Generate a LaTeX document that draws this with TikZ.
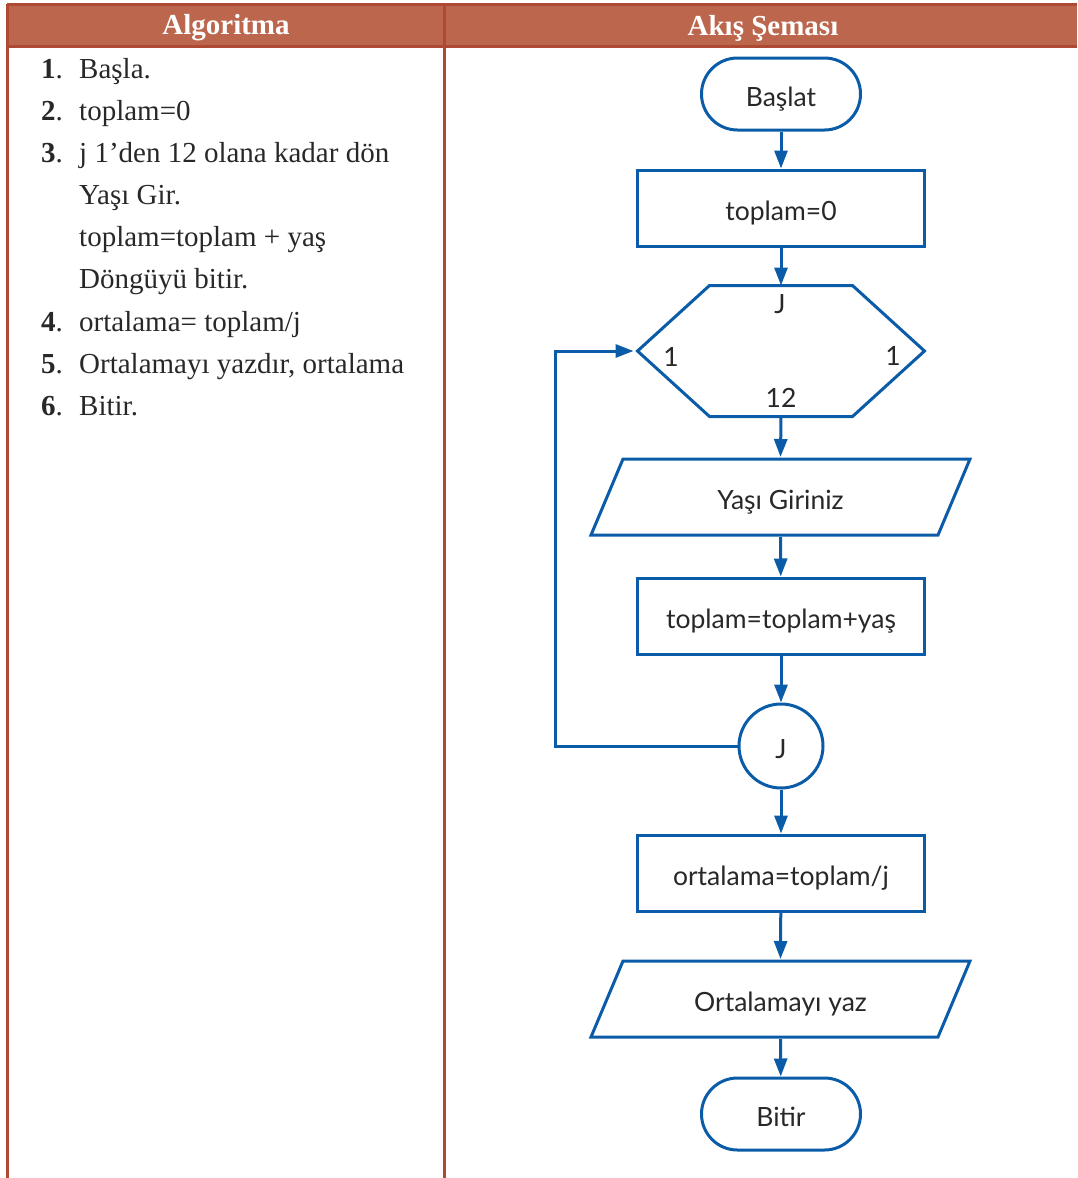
\documentclass[tikz,border=0pt]{standalone}
\usepackage{fontspec}
\setmainfont{Liberation Serif}
\newfontfamily\akisfont{Lato}
\usetikzlibrary{arrows.meta,calc}
\definecolor{baslik}{RGB}{188,102,77}
\definecolor{cerceve}{RGB}{174,74,51}
\definecolor{akismavi}{RGB}{10,92,168}
\definecolor{yazi}{RGB}{40,40,40}
\tikzset{
  header/.style={font=\bfseries\fontsize{29}{34}\selectfont, text=white},
  madde/.style={anchor=base west, inner sep=0pt, font=\fontsize{29}{34}\selectfont, text=yazi},
  akis/.style={font=\akisfont\fontsize{26.5}{30}\selectfont, text=yazi, text height=25pt, text depth=0pt},
  cizgi/.style={draw=akismavi, line width=3pt},
  terminal/.style={akis, cizgi, rounded corners=36pt, minimum width=159pt, minimum height=72pt},
  islem/.style={akis, cizgi, minimum width=287pt, minimum height=76pt},
  kutu/.style={akis, inner sep=0pt, outer sep=0pt},
  baglanti/.style={akis, cizgi, circle, inner sep=0pt, minimum size=84pt},
  etiket/.style={akis, inner sep=0pt},
  ok/.style={cizgi, -{Triangle[length=18pt,width=13pt]}},
}

\begin{document}
\begin{tikzpicture}[x=1pt, y=-1pt]
  \useasboundingbox (0,0) rectangle (1077,1178);
  % table frame
  \fill[baslik] (7,4) rectangle (1077,46);
  \draw[cerceve, line width=3pt] (7,4) -- (1077,4);
  \draw[cerceve, line width=3pt] (7,46) -- (1077,46);
  \draw[cerceve, line width=3pt] (7,4) -- (7,1178);
  \draw[cerceve, line width=3pt] (444,4) -- (444,1178);
  \node[header] (algoritma) at (226,28) {Algoritma};
  \node[header] (sema) at (763,28) {Akış Şeması};

  % algorithm steps
  \node[madde] (n1) at (41,78) {\textbf{1}.};
  \node[madde] (a1) at (79,78) {Başla.};
  \node[madde] (n2) at (41,120) {\textbf{2}.};
  \node[madde] (a2) at (79,120) {toplam=0};
  \node[madde] (n3) at (41,162) {\textbf{3}.};
  \node[madde] (a3) at (79,162) {j 1’den 12 olana kadar dön};
  \node[madde] (a3b) at (79,204) {Yaşı Gir.};
  \node[madde] (a3c) at (79,246) {toplam=toplam + yaş};
  \node[madde] (a3d) at (79,288) {Döngüyü bitir.};
  \node[madde] (n4) at (41,331) {\textbf{4}.};
  \node[madde] (a4) at (79,331) {ortalama= toplam/j};
  \node[madde] (n5) at (41,373) {\textbf{5}.};
  \node[madde] (a5) at (79,373) {Ortalamayı yazdır, ortalama};
  \node[madde] (n6) at (41,415) {\textbf{6}.};
  \node[madde] (a6) at (79,415) {Bitir.};

  % flow chart
  \node[terminal] (baslat) at (781,94) {Başlat};
  \node[islem] (toplam) at (781,208) {toplam=0};
  \node[kutu, minimum width=287pt, minimum height=131pt] (dongu) at (781,351) {};
  \draw[cizgi, line join=miter] (dongu.west) -- ($(dongu.north west)+(72,0)$) -- ($(dongu.north east)+(-72,0)$)
    -- (dongu.east) -- ($(dongu.south east)+(-72,0)$) -- ($(dongu.south west)+(72,0)$) -- cycle;
  \node[etiket] (jbas) at (780,301) {J};
  \node[etiket] (bas1) at (671,354) {1};
  \node[etiket] (artis) at (893,353) {1};
  \node[etiket] (son) at (781,395) {12};
  \node[kutu, minimum width=347pt, minimum height=76pt] (giris) at (780.5,497) {Yaşı Giriniz};
  \draw[cizgi] ($(giris.north west)+(16,0)$) -- ($(giris.north east)+(16,0)$)
    -- ($(giris.south east)+(-16,0)$) -- ($(giris.south west)+(-16,0)$) -- cycle;
  \node[islem] (topla) at (781,616) {toplam=toplam+yaş};
  \node[baglanti] (jsay) at (781,746) {J};
  \node[islem] (ortalama) at (781,873) {ortalama=toplam/j};
  \node[kutu, minimum width=347pt, minimum height=76pt] (yazdir) at (780.5,999) {Ortalamayı yaz};
  \draw[cizgi] ($(yazdir.north west)+(16,0)$) -- ($(yazdir.north east)+(16,0)$)
    -- ($(yazdir.south east)+(-16,0)$) -- ($(yazdir.south west)+(-16,0)$) -- cycle;
  \node[terminal] (bitir) at (781,1114) {Bitir};
  \coordinate (donus) at ($(dongu.west)+(-4,0)$);

  \draw[ok] (baslat) -- (toplam);
  \draw[ok] (toplam) -- (dongu.north);
  \draw[ok] (dongu.south) -- ($(giris.north)+(0,-2)$);
  \draw[ok] ($(giris.south)+(0,2)$) -- (topla);
  \draw[ok] (topla) -- (jsay);
  \draw[ok] (jsay.west) -- ++(-182,0) |- (donus);
  \draw[ok] (jsay) -- (ortalama);
  \draw[ok] (ortalama) -- ($(yazdir.north)+(0,-2)$);
  \draw[ok] ($(yazdir.south)+(0,2)$) -- (bitir);
\end{tikzpicture}
\end{document}
